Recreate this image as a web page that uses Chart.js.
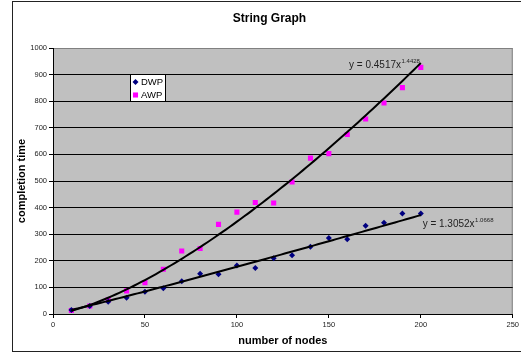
<!DOCTYPE html>
<html>
<head>
<meta charset="utf-8">
<title>String Graph</title>
<script src="https://cdn.jsdelivr.net/npm/chart.js@4.4.1/dist/chart.umd.min.js"></script>
<style>
  html, body { margin: 0; padding: 0; background: #fff; }
  canvas { display: block; }
</style>
</head>
<body>
<canvas id="stringChart" width="521" height="353"></canvas>
<script>
// number of nodes vs completion time
const nodeCounts = [10, 20, 30, 40, 50, 60, 70, 80, 90, 100, 110, 120, 130, 140, 150, 160, 170, 180, 190, 200];
const dwpTimes = [15, 30, 46, 61, 84, 97, 123, 151, 149, 182, 173, 210, 221, 253, 286, 281, 332, 343, 378, 378];
const awpTimes = [13, 30, 53, 87, 118, 168, 237, 246, 337, 383, 419, 417, 496, 586, 603, 675, 733, 793, 851, 927];

// power trendlines y = a * x^b  ([a, b])
const dwpFit = [1.3052, 1.0668];
const awpFit = [0.4517, 1.4428];

// where the equation text sits, in data units (left edge, baseline)
const dwpEqAt = [201, 326];
const awpEqAt = [161, 926];

const FONT = "'Liberation Sans', Arial, sans-serif";

function fitPoints(fit) {
  const pts = [];
  for (let x = nodeCounts[0]; x <= nodeCounts[nodeCounts.length - 1]; x += 2) {
    pts.push({ x: x, y: fit[0] * Math.pow(x, fit[1]) });
  }
  return pts;
}

function toPoints(ys) {
  return nodeCounts.map((x, i) => ({ x: x, y: ys[i] }));
}

const decorPlugin = {
  id: "decor",
  beforeDraw(chart) {
    const { ctx, chartArea: a } = chart;
    ctx.save();
    ctx.fillStyle = "#c0c0c0";
    ctx.fillRect(a.left, a.top, a.right - a.left, a.bottom - a.top);
    ctx.strokeStyle = "#808080";
    ctx.lineWidth = 1;
    ctx.beginPath();
    ctx.moveTo(a.left, a.top + 0.5);
    ctx.lineTo(a.right - 0.5, a.top + 0.5);
    ctx.lineTo(a.right - 0.5, a.bottom);
    ctx.stroke();
    ctx.restore();
  },
  afterDraw(chart) {
    const { ctx } = chart;
    const xs = chart.scales.x, ys = chart.scales.y;
    ctx.save();

    // outer frame
    ctx.strokeStyle = "#222";
    ctx.lineWidth = 1;
    ctx.strokeRect(12.5, 1.5, 530, 350);

    // title
    ctx.fillStyle = "#000";
    ctx.font = "bold 12px " + FONT;
    ctx.textAlign = "center";
    ctx.textBaseline = "middle";
    ctx.fillText("String Graph", 269.5, 19);

    // trendline equations
    function equation(at, fit) {
      const x0 = xs.getPixelForValue(at[0]);
      const y0 = ys.getPixelForValue(at[1]);
      ctx.textAlign = "left";
      ctx.textBaseline = "alphabetic";
      ctx.fillStyle = "#222";
      ctx.font = "10px " + FONT;
      const main = "y = " + fit[0].toFixed(4) + "x";
      ctx.fillText(main, x0, y0);
      const w = ctx.measureText(main).width;
      ctx.font = "6px " + FONT;
      ctx.fillText(fit[1].toFixed(4), x0 + w + 0.5, y0 - 5);
    }
    equation(awpEqAt, awpFit);
    equation(dwpEqAt, dwpFit);

    // legend box
    const lx = 130.5, ly = 74.5, lw = 35, lh = 27;
    ctx.fillStyle = "#fff";
    ctx.fillRect(lx, ly, lw, lh);
    ctx.strokeStyle = "#000";
    ctx.strokeRect(lx, ly, lw, lh);
    const items = chart.data.datasets.filter(d => d.label);
    items.forEach((d, i) => {
      const cy = ly + 7.5 + i * 13;
      ctx.fillStyle = d.backgroundColor;
      ctx.strokeStyle = d.borderColor;
      Chart.helpers.drawPoint(ctx, {
        pointStyle: d.pointStyle,
        radius: d.pointRadius,
        rotation: 0,
        borderWidth: 0
      }, lx + 5, cy);
      ctx.fillStyle = "#000";
      ctx.font = "9.5px " + FONT;
      ctx.textAlign = "left";
      ctx.textBaseline = "middle";
      ctx.fillText(d.label, lx + 10.5, cy + 0.5);
    });

    ctx.restore();
  }
};

new Chart(document.getElementById("stringChart"), {
  type: "scatter",
  data: {
    datasets: [
      {
        label: "DWP",
        data: toPoints(dwpTimes),
        pointStyle: "rectRot",
        pointRadius: 3,
        backgroundColor: "#000080",
        borderColor: "#000080",
        borderWidth: 0,
        order: 1
      },
      {
        label: "AWP",
        data: toPoints(awpTimes),
        pointStyle: "rect",
        pointRadius: 3.6,
        backgroundColor: "#ff00ff",
        borderColor: "#ff00ff",
        borderWidth: 0,
        order: 1
      },
      {
        data: fitPoints(dwpFit),
        showLine: true,
        pointRadius: 0,
        borderColor: "#000",
        borderWidth: 2,
        tension: 0,
        order: 0
      },
      {
        data: fitPoints(awpFit),
        showLine: true,
        pointRadius: 0,
        borderColor: "#000",
        borderWidth: 2,
        tension: 0,
        order: 0
      }
    ]
  },
  options: {
    responsive: false,
    animation: false,
    devicePixelRatio: 1,
    layout: { padding: { top: 48, left: 12, right: 8, bottom: 0 } },
    plugins: {
      legend: { display: false },
      title: { display: false },
      tooltip: { enabled: false }
    },
    scales: {
      x: {
        type: "linear",
        min: 0,
        max: 250,
        ticks: { stepSize: 50, color: "#222", padding: 2, font: { family: FONT, size: 7.5 }, callback: v => String(v) },
        grid: { drawOnChartArea: false, drawTicks: true, tickLength: 4, tickColor: "#000" },
        border: { color: "#000", width: 1 },
        title: {
          display: true,
          text: "number of nodes",
          color: "#000",
          font: { family: FONT, size: 11, weight: "bold" },
          padding: { top: 0, bottom: 5 }
        },
        afterFit(scale) { scale.height = 39; }
      },
      y: {
        min: 0,
        max: 1000,
        ticks: { stepSize: 100, color: "#222", padding: 2, font: { family: FONT, size: 7.5 }, callback: v => String(v) },
        grid: {
          color: ctx => (ctx.tick && ctx.tick.value === 1000 ? "#808080" : "#000"),
          lineWidth: 1,
          tickLength: 4,
          tickColor: "#000"
        },
        border: { color: "#000", width: 1 },
        title: {
          display: true,
          text: "completion time",
          color: "#000",
          font: { family: FONT, size: 11, weight: "bold" },
          padding: { top: 3, bottom: 0 }
        },
        afterFit(scale) { scale.width = 41; }
      }
    }
  },
  plugins: [decorPlugin]
});
</script>
</body>
</html>
